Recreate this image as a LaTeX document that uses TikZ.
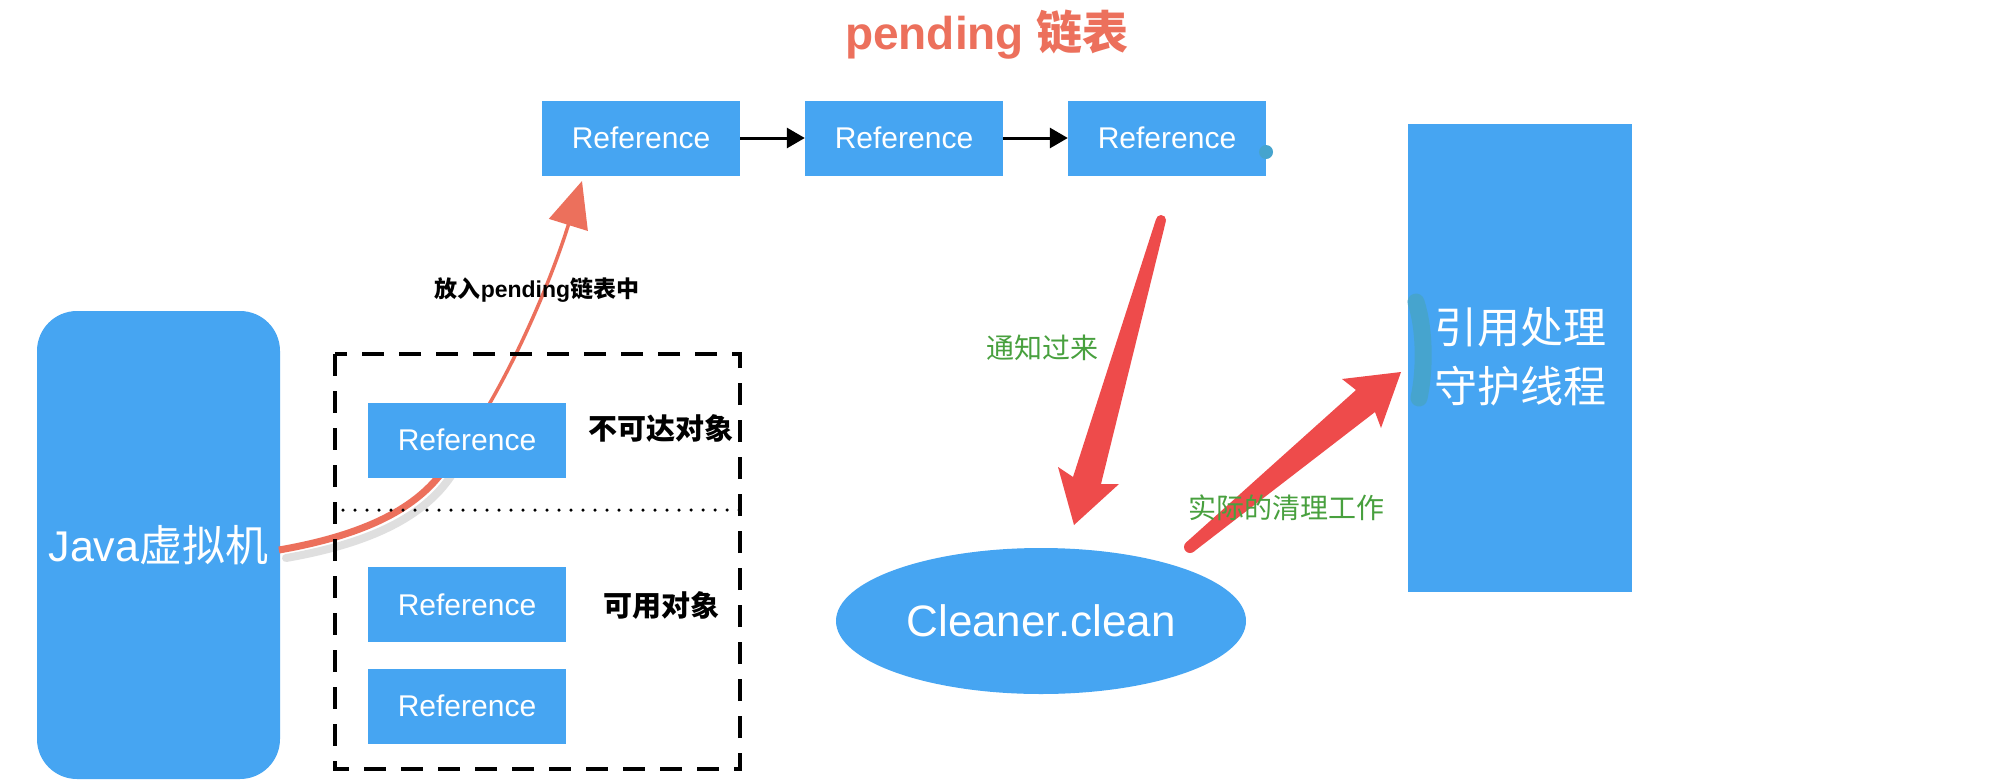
\documentclass[tikz,border=0pt]{standalone}
\usepackage{fontspec}
\setmainfont{Liberation Sans}
\newfontfamily\cjk{Noto Sans CJK SC}
\usetikzlibrary{arrows.meta,shapes.geometric,calc}
\definecolor{boxblue}{RGB}{70,165,242}
\definecolor{arrred}{RGB}{238,75,75}
\definecolor{salmonc}{RGB}{236,112,92}
\definecolor{lblgreen}{RGB}{72,160,62}
\definecolor{tealdot}{RGB}{70,164,206}
\tikzset{
  refbox/.style={fill=boxblue, draw=none, minimum width=198pt, minimum height=75pt, inner sep=0pt,
    text=white, font=\fontsize{30pt}{36pt}\selectfont},
  blackarrow/.style={line width=3pt, -{Triangle[length=18pt,width=20pt]}},
  redfill/.style={fill=arrred, draw=none},
  greenlbl/.style={text=lblgreen, inner sep=0pt, font=\fontsize{28pt}{34pt}\selectfont\cjk},
  blacklbl/.style={text=black, inner sep=0pt, font=\fontsize{29pt}{34pt}\selectfont\bfseries\cjk},
}
\begin{document}
\begin{tikzpicture}[x=1pt,y=-1pt]
\useasboundingbox (0,0) rectangle (1992,782);
\fill[white] (0,0) rectangle (1992,782);

% title
\node[text=salmonc, font=\fontsize{46pt}{52pt}\selectfont\bfseries, inner sep=0pt] (title) at (987,35) {pending {\cjk 链表}};

% pending list
\node[refbox] (p1) at (641,138) {Reference};
\node[refbox] (p2) at (904,138) {Reference};
\node[refbox] (p3) at (1167,138) {Reference};
\draw[blackarrow] (p1.east) -- (p2.west);
\draw[blackarrow] (p2.east) -- (p3.west);
\fill[tealdot] (1266,152) circle (7pt);

% Java VM
\node[fill=boxblue, rounded corners=40pt, minimum width=243pt, minimum height=468pt, inner sep=0pt,
  text=white, font=\fontsize{43pt}{50pt}\selectfont] (vm) at (158.5,545) {Java{\cjk 虚拟机}};

% salmon curve (behind the reference box)
\coordinate (vmout) at (279,550);
\coordinate (mid) at (445,468);
\coordinate (ptip) at (582,181);
\draw[black!35, opacity=0.35, line width=8pt, line cap=round] (286,558) .. controls (372,543) and (424,516) .. (451,476);
\draw[salmonc, line width=3.5pt, -{Triangle[length=46pt,width=40pt]}] (vmout) .. controls (365,535) and (418,508) .. (mid) .. controls (492,415) and (545,300) .. (ptip);
\draw[salmonc, line width=7pt] (vmout) .. controls (365,535) and (418,508) .. (mid);

% dashed frame
\draw[line width=3.5pt, dash pattern=on 22pt off 15pt] (335,354) rectangle (740,769);
\draw[line width=3.5pt, line cap=round, dash pattern=on 0pt off 12pt] (343,510) -- (740,510);

\node[refbox] (r1) at (467,440) {Reference};
\node[refbox] (r2) at (467,604.5) {Reference};
\node[refbox] (r3) at (467,706) {Reference};
\node[blacklbl] (l1) at (661,428) {不可达对象};
\node[blacklbl] (l2) at (661,605) {可用对象};

\node[text=black, inner sep=0pt, font=\fontsize{23pt}{28pt}\selectfont\bfseries] (lput) at (537,290) {{\cjk 放入}pending{\cjk 链表中}};

% daemon thread box
\node[fill=boxblue, minimum width=224pt, minimum height=468pt, inner sep=0pt] (dt) at (1520,358) {};
\node[text=white, align=center, inner sep=0pt, font=\fontsize{43pt}{59pt}\selectfont\cjk] (dtl) at (1520,357) {引用处理\\守护线程};
\draw[tealdot, line width=17pt, line cap=round] (1416,302) .. controls (1425,330) and (1425,370) .. (1419,398);

% Cleaner
\node[ellipse, fill=boxblue, minimum width=410pt, minimum height=146pt, inner sep=0pt,
  text=white, font=\fontsize{44pt}{50pt}\selectfont] (cl) at (1041,621) {Cleaner.clean};

% red arrows (tapered shafts, barbed heads)
\coordinate (n1s) at (1161,220);
\coordinate (n1e) at (1074,525);
\fill[redfill] (n1s) circle (5pt);
\fill[redfill] (1165.8,221.4) -- (1101,484) -- (1119,484) -- (n1e) -- (1058,467) -- (1073,477) -- (1156.2,218.6) -- cycle;
\coordinate (n2s) at (1190,547);
\coordinate (n2e) at (1401,372);
\fill[redfill] (n2s) circle (6pt);
\fill[redfill] (1193.8,551.6) -- (1375,412) -- (1381,428) -- (n2e) -- (1342,379) -- (1356,390) -- (1186.2,542.4) -- cycle;

\node[greenlbl] (g1) at (1042,348) {通知过来};
\node[greenlbl] (g2) at (1286,508) {实际的清理工作};
\end{tikzpicture}
\end{document}
